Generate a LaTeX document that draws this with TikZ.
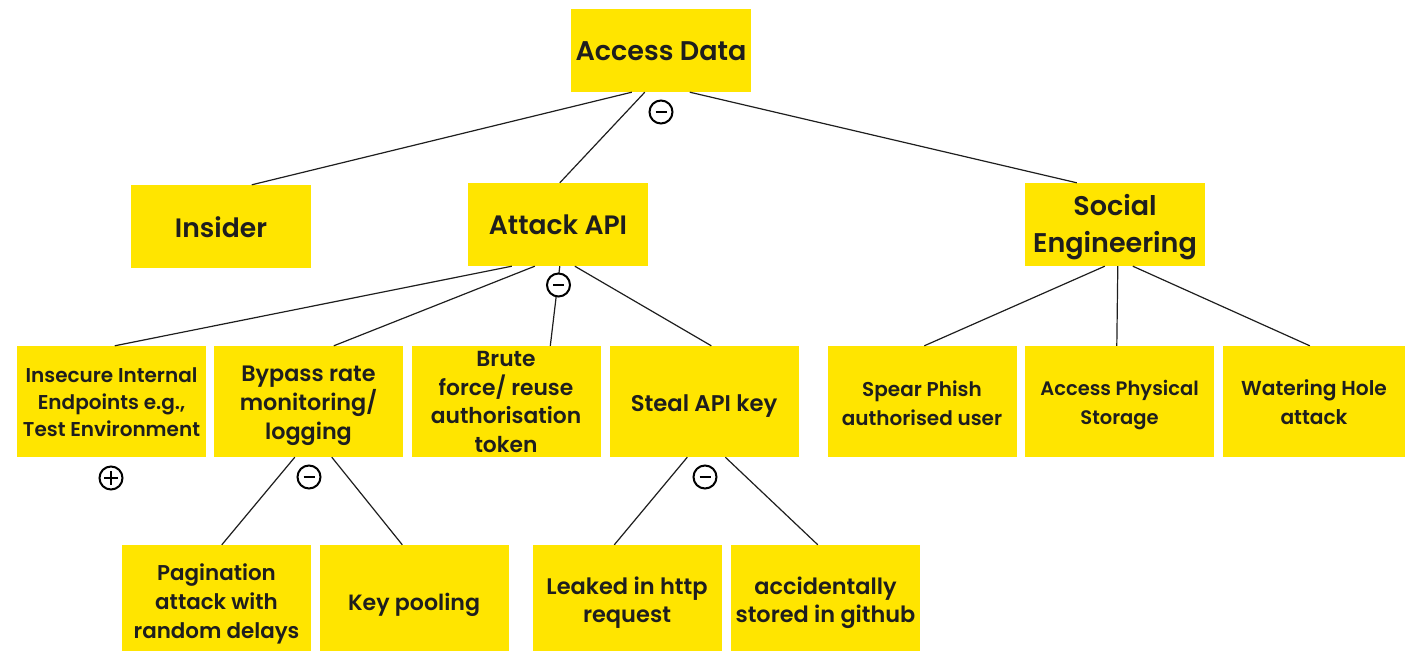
\documentclass[tikz,border=0pt]{standalone}
\usepackage{fontspec}
\setmainfont{Poppins}[UprightFont=* SemiBold, BoldFont=* Bold]
\usetikzlibrary{calc}
\definecolor{sticky}{HTML}{FFE500}
\definecolor{ink}{HTML}{1E1E1E}
\newcommand{\fs}[2]{\fontsize{#1}{#2}\selectfont}
\tikzset{
  box/.style={fill=sticky, inner sep=0pt},
  top/.style={box, minimum width=180pt, minimum height=83pt},
  leaf/.style={box, minimum width=189pt, minimum height=111pt},
  low/.style={box, minimum width=189pt, minimum height=106pt},
  lab/.style={align=center, text=ink, inner sep=0pt},
  link/.style={draw=ink, line width=1.2pt},
  gate/.style={circle, draw=black, line width=2pt, minimum size=23pt, inner sep=0pt, fill=white},
}
\newcommand{\minussign}[1]{\draw[line width=2.8pt] ($(#1)+(-5.5,0)$) -- ($(#1)+(5.5,0)$);}
\newcommand{\plussign}[1]{\draw[line width=2.2pt] ($(#1)+(-7,0)$) -- ($(#1)+(7,0)$) ($(#1)+(0,-7)$) -- ($(#1)+(0,7)$);}
\begin{document}
\begin{tikzpicture}[x=1pt,y=-1pt]
\useasboundingbox (0,0) rectangle (1405,652);
% boxes
\node[top, label={[lab, yshift=-1pt, font=\fs{27}{33}]center:Access Data}] (root) at (661,50.5) {};
\node[top, label={[lab, yshift=-1pt, font=\fs{26.6}{33}]center:Insider}] (insider) at (221,226.5) {};
\node[top, label={[lab, yshift=-0.65pt, font=\fs{26.6}{33}]center:Attack API}] (api) at (558,224.5) {};
\node[top, label={[lab, yshift=-2.85pt, font=\fs{27}{36.7}]center:{Social\\Engineering}}] (social) at (1115,224.5) {};
\node[leaf, label={[lab, yshift=-1.1pt, font=\fs{20}{27}]center:{Insecure Internal\\Endpoints e.g.,\\Test Environment}}] (insecure) at (111.5,401.5) {};
\node[leaf, label={[lab, yshift=-3.85pt, font=\fs{22.3}{29}]center:{Bypass rate\\monitoring/\\logging}}] (bypass) at (308.5,401.5) {};
\node[leaf, label={[lab, yshift=-0.5pt, font=\fs{21.8}{28.7}]center:{Brute\\force/ reuse\\authorisation\\token}}] (brute) at (506,401.5) {};
\node[leaf, label={[lab, yshift=-4.7pt, font=\fs{22.7}{29}]center:Steal API key}] (steal) at (704,401.5) {};
\node[leaf, label={[lab, yshift=-1.6pt, font=\fs{20}{29}]center:{Spear Phish\\authorised user}}] (spear) at (922,401.5) {};
\node[leaf, label={[lab, yshift=-3.3pt, font=\fs{19.5}{29.5}]center:{Access Physical\\Storage}}] (physical) at (1119.5,401.5) {};
\node[leaf, minimum width=182pt, label={[lab, yshift=-0.55pt, font=\fs{20.2}{29}]center:{Watering Hole\\attack}}] (water) at (1314,401.5) {};
\node[low, label={[lab, yshift=-5.55pt, font=\fs{21.4}{29}]center:{Pagination\\attack with\\random delays}}] (pagination) at (216.5,598) {};
\node[low, label={[lab, yshift=-7pt, font=\fs{22.1}{29}]center:Key pooling}] (pooling) at (414,598) {};
\node[low, label={[lab, yshift=-4.65pt, font=\fs{22.5}{28.7}]center:{Leaked in http\\request}}] (leaked) at (627,598) {};
\node[low, label={[lab, yshift=-4.65pt, font=\fs{22.4}{28.7}]center:{accidentally\\stored in github}}] (github) at (825.5,598) {};
% connectors
\draw[link] ($(root.south west)+(61,0)$) -- ($(insider.north west)+(121,0)$);
\draw[link] ($(root.south west)+(74,0)$) -- ($(api.north west)+(92,0)$);
\draw[link] ($(root.south west)+(119,0)$) -- ($(social.north west)+(52,0)$);
\draw[link] ($(api.south west)+(44,0)$) -- ($(insecure.north west)+(98,0)$);
\draw[link] ($(api.south west)+(67,0)$) -- ($(bypass.north west)+(120,0)$);
\draw[link] ($(api.south west)+(92,0)$) -- ($(brute.north west)+(139,0)$);
\draw[link] ($(api.south west)+(107,0)$) -- ($(steal.north west)+(102,0)$);
\draw[link] ($(social.south west)+(80,0)$) -- ($(spear.north west)+(97,0)$);
\draw[link] ($(social.south west)+(93,0)$) -- ($(physical.north west)+(92,0)$);
\draw[link] ($(social.south west)+(108,0)$) -- ($(water.north west)+(87,0)$);
\draw[link] ($(bypass.south west)+(81,0)$) -- ($(pagination.north west)+(100,0)$);
\draw[link] ($(bypass.south west)+(118,0)$) -- ($(pooling.north west)+(83,0)$);
\draw[link] ($(steal.south west)+(78,0)$) -- ($(leaked.north west)+(82,0)$);
\draw[link] ($(steal.south west)+(116,0)$) -- ($(github.north west)+(87,0)$);
% gates
\node[gate] (g1) at (661,112) {};
\minussign{g1}
\node[gate] (g2) at (558.5,285) {};
\minussign{g2}
\node[gate] (g3) at (111,478) {};
\plussign{g3}
\node[gate] (g4) at (309,477) {};
\minussign{g4}
\node[gate] (g5) at (705,477) {};
\minussign{g5}
\end{tikzpicture}
\end{document}
